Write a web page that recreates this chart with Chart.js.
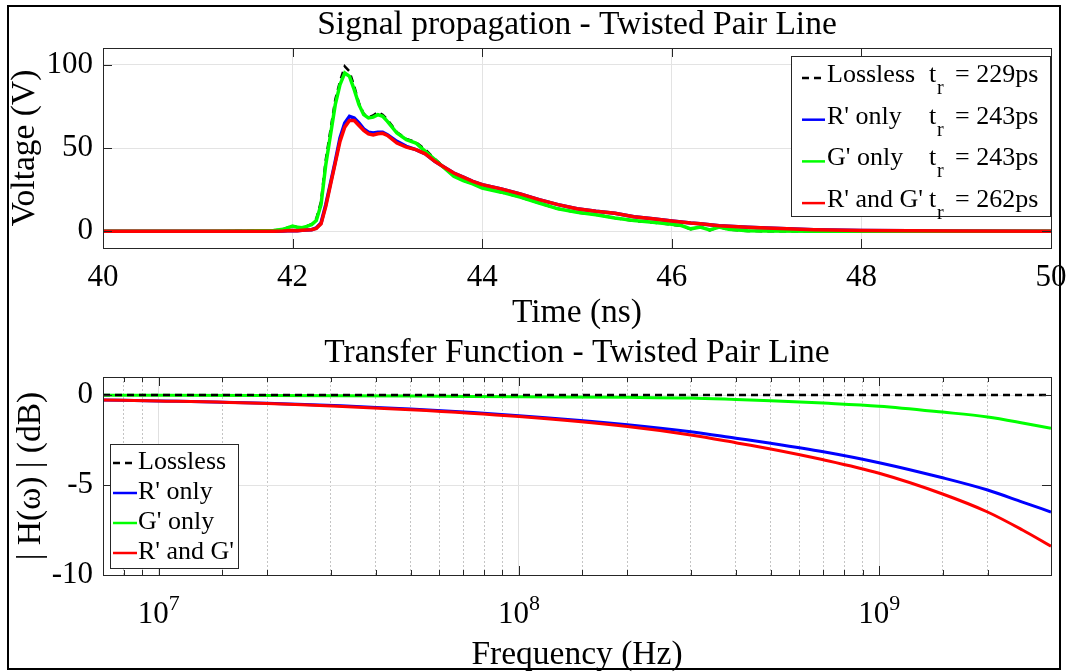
<!DOCTYPE html>
<html>
<head>
<meta charset="utf-8">
<script src="https://cdn.jsdelivr.net/npm/chart.js@4.4.0/dist/chart.umd.min.js"></script>
<style>
  body { margin: 0; background: #fff; }
  #page { position: relative; width: 1069px; height: 672px; overflow: hidden; }
  #frame { position: absolute; left: 7px; top: 5px; width: 1054px; height: 665px; border: 2px solid #000; box-sizing: border-box; }
  canvas { position: absolute; left: 0; }
  #top { top: 0; }
  #bottom { top: 330px; }
</style>
</head>
<body>
<div id="page">
  <div id="frame"></div>
  <canvas id="top" width="1154" height="330"></canvas>
  <canvas id="bottom" width="1154" height="342"></canvas>
</div>
<script>
"use strict"

const seriesNames = ['Lossless', "R' only", "G' only", "R' and G'"]
const riseTimes = [229, 243, 243, 262]

// time domain (ns, V)
const timeNs = [40, 41, 41.5, 41.8, 41.9, 42.0, 42.05, 42.1, 42.15, 42.2, 42.25, 42.3, 42.35, 42.4, 42.45, 42.5, 42.55, 42.6, 42.65, 42.7,
    42.75, 42.8, 42.85, 42.9, 42.95, 43.0, 43.1, 43.2, 43.3, 43.4, 43.5, 43.6, 43.7, 43.8, 43.9, 44.0, 44.2, 44.4, 44.6, 44.8,
    45.0, 45.2, 45.4, 45.6, 45.8, 46.0, 46.1, 46.2, 46.3, 46.4, 46.5, 46.6, 46.8, 47.0, 47.5, 48, 49, 50]
const vLossless = [0, 0, 0.2, 0.5, 1.3, 3.4, 2.5, 2.3, 3.1, 4.3, 7.5, 18, 43, 61, 79, 90, 99, 96, 87, 77,
    70.5, 68.5, 69.5, 71.5, 70, 67, 59.5, 55.5, 53.5, 49, 43.5, 38.5, 33.5, 30.5, 28.5, 26.2, 23.5, 20.5, 17, 13.5,
    11.3, 10, 8, 6.3, 5.3, 4, 3.3, 1.3, 2.7, 0.6, 2.7, 1, 0.2, 0.1, 0.05, 0, 0, 0]
const vROnly = [0, 0, 0, 0.1, 0.2, 0.5, 0.4, 0.6, 0.8, 1.0, 2.0, 5, 16, 29, 42, 56, 65, 69, 68, 65,
    61.5, 59.5, 59, 59.5, 59.5, 58, 54, 51, 49, 46.5, 42, 38.5, 35, 32.5, 30, 28, 25.5, 22.5, 19, 16,
    13.5, 12, 10.8, 8.8, 7.6, 6.2, 5.6, 5.0, 4.6, 4.0, 3.4, 3.0, 2.4, 2.0, 1.0, 0.5, 0.2, 0.1]
const vGOnly = [0, 0, 0.2, 0.5, 1.2, 3.2, 2.4, 2.2, 3.0, 4.0, 6.5, 16, 40, 58, 76, 88, 95, 93, 85, 76,
    70, 68, 68.5, 70, 69, 66, 59, 55, 53, 48, 43, 38, 33, 30.5, 28.5, 26, 23.5, 20.5, 17, 13.5,
    11.5, 10, 8, 6.5, 5.5, 4.2, 3.5, 1.5, 2.6, 0.8, 2.6, 1.2, 0.3, 0.2, 0.1, 0, 0, 0]
const vRG = [0, 0, 0, 0.1, 0.2, 0.5, 0.4, 0.6, 0.8, 1.0, 1.8, 4.5, 15, 28, 41, 54, 62.5, 66.5, 66.5, 63.5,
    60.5, 58.5, 57.8, 58.5, 58.8, 57.5, 53, 50.5, 49, 46.5, 42, 38.5, 35, 32.5, 30, 28, 25.5, 22.5, 19, 16,
    13.5, 12, 10.8, 8.8, 7.6, 6.2, 5.6, 5.0, 4.6, 4.0, 3.4, 3.0, 2.4, 2.0, 1.0, 0.5, 0.2, 0.1]

// transfer function (Hz, dB)
const freqHz = [7e6, 1e7, 2e7, 5e7, 1e8, 2e8, 3e8, 4e8, 5e8, 7e8, 1e9, 1.5e9, 2e9, 2.5e9, 3e9]
const hLossless = [0, 0, 0, 0, 0, 0, 0, 0, 0, 0, 0, 0, 0, 0, 0]
const hROnly = [-0.28, -0.33, -0.46, -0.78, -1.15, -1.65, -2.04, -2.4, -2.68, -3.15, -3.76, -4.6, -5.28, -5.95, -6.5]
const hGOnly = [-0.02, -0.02, -0.03, -0.06, -0.1, -0.13, -0.17, -0.25, -0.32, -0.45, -0.62, -0.95, -1.22, -1.55, -1.85]
const hRG = [-0.28, -0.33, -0.47, -0.82, -1.2, -1.75, -2.22, -2.65, -3.0, -3.6, -4.35, -5.5, -6.5, -7.5, -8.4]

const timeTicks = [40, 42, 44, 46, 48, 50]
const voltTicks = [0, 50, 100]
const dbTicks = [-10, -5, 0]

const colors = ['#000000', '#0000ff', '#00ff00', '#ff0000']
const serif = '"Liberation Serif", "Times New Roman", serif'
const axisColor = '#262626'

const toPoints = (xs, ys) => xs.map((x, i) => ({ x: x, y: ys[i] }))
const isDecade = (v) => Math.abs(Math.log10(v) - Math.round(Math.log10(v))) < 1e-6

// MATLAB-like box with inward ticks
const boxPlugin = {
    id: 'box',
    afterDatasetsDraw(chart) {
        const { ctx, chartArea: a, scales } = chart
        ctx.save()
        ctx.strokeStyle = axisColor
        ctx.lineWidth = 1
        ctx.strokeRect(Math.round(a.left) + 0.5, Math.round(a.top) + 0.5, Math.round(a.right - a.left), Math.round(a.bottom - a.top))
        ctx.beginPath()
        scales.x.ticks.forEach(t => {
            const px = Math.round(scales.x.getPixelForValue(t.value)) + 0.5
            const len = scales.x.type === 'logarithmic' && !isDecade(t.value) ? 5 : 9
            ctx.moveTo(px, a.bottom); ctx.lineTo(px, a.bottom - len)
            ctx.moveTo(px, a.top); ctx.lineTo(px, a.top + len)
        })
        scales.y.ticks.forEach(t => {
            const py = Math.round(scales.y.getPixelForValue(t.value)) + 0.5
            ctx.moveTo(a.left, py); ctx.lineTo(a.left + 9, py)
            ctx.moveTo(a.right, py); ctx.lineTo(a.right - 9, py)
        })
        ctx.stroke()
        ctx.restore()
    }
}

// decade labels 10^n for the log axis
const decadeLabels = {
    id: 'decadeLabels',
    afterDraw(chart) {
        const { ctx, chartArea: a, scales } = chart
        ctx.save()
        ctx.fillStyle = '#000'
        ctx.textBaseline = 'alphabetic'
        scales.x.ticks.filter(t => isDecade(t.value)).forEach(t => {
            const px = scales.x.getPixelForValue(t.value)
            const exp = String(Math.round(Math.log10(t.value)))
            ctx.font = `31px ${serif}`
            const w1 = ctx.measureText('10').width
            ctx.font = `22px ${serif}`
            const w2 = ctx.measureText(exp).width
            const x0 = px - (w1 + w2) / 2
            const base = a.bottom + 48
            ctx.font = `31px ${serif}`
            ctx.fillText('10', x0, base)
            ctx.font = `22px ${serif}`
            ctx.fillText(exp, x0 + w1, base - 13)
        })
        ctx.restore()
    }
}

const drawSample = (ctx, i, x0, x1, y) => {
    ctx.beginPath()
    ctx.strokeStyle = colors[i]
    ctx.lineWidth = 2.5
    ctx.setLineDash(i === 0 ? [7, 5] : [])
    ctx.moveTo(x0, y); ctx.lineTo(x1, y)
    ctx.stroke()
    ctx.setLineDash([])
}

const topLegend = {
    id: 'topLegend',
    afterDraw(chart) {
        const ctx = chart.ctx
        ctx.save()
        ctx.fillStyle = '#fff'
        ctx.fillRect(791, 56, 259, 160)
        ctx.strokeStyle = axisColor
        ctx.lineWidth = 1
        ctx.strokeRect(791.5, 56.5, 259, 160)
        seriesNames.forEach((name, i) => {
            const base = 82 + i * 41.7
            drawSample(ctx, i, 802, 825, base - 4)
            ctx.fillStyle = '#000'
            ctx.textBaseline = 'alphabetic'
            ctx.font = `26px ${serif}`
            ctx.fillText(name, 827, base)
            ctx.fillText('t', 929, base)
            ctx.fillText(`= ${riseTimes[i]}ps`, 955, base)
            ctx.font = `20px ${serif}`
            ctx.fillText('r', 937, base + 12)
        })
        ctx.restore()
    }
}

const bottomLegend = {
    id: 'bottomLegend',
    afterDraw(chart) {
        const ctx = chart.ctx
        ctx.save()
        ctx.fillStyle = '#fff'
        ctx.fillRect(110, 114, 128, 124)
        ctx.strokeStyle = axisColor
        ctx.lineWidth = 1
        ctx.strokeRect(110.5, 114.5, 128, 124)
        seriesNames.forEach((name, i) => {
            const base = 139 + i * 30
            drawSample(ctx, i, 113, 137, base - 6)
            ctx.fillStyle = '#000'
            ctx.textBaseline = 'alphabetic'
            ctx.font = `26px ${serif}`
            ctx.fillText(name, 138, base)
        })
        ctx.restore()
    }
}

const makeDatasets = (xs, series, widths, order) => series.map((ys, i) => ({
    label: seriesNames[i],
    data: toPoints(xs, ys),
    borderColor: colors[i],
    borderWidth: widths[i],
    borderDash: i === 0 ? [7, 5] : [],
    pointRadius: 0,
    fill: false,
    order: order[i]
}))

const tickFont = { family: serif, size: 31 }
const titleFont = { family: serif, size: 33.5, weight: 'normal', lineHeight: 1 }

// empty right-hand axis: keeps the plot at 103..1051 while the title centres over it
const spacerAxis = {
    position: 'right',
    display: true,
    grid: { display: false, drawTicks: false },
    border: { display: false },
    ticks: { display: false },
    afterFit: s => { s.width = 103 }
}

new Chart(document.getElementById('top').getContext('2d'), {
    type: 'line',
    data: {
        datasets: makeDatasets(timeNs, [vLossless, vROnly, vGOnly, vRG], [2.5, 3.5, 3.5, 3.5], [3, 2, 1, 0])
    },
    options: {
        responsive: false,
        animation: false,
        layout: { padding: 0 },
        plugins: {
            legend: { display: false },
            tooltip: { enabled: false },
            title: {
                display: true,
                text: 'Signal propagation - Twisted Pair Line',
                color: '#000',
                font: titleFont,
                padding: { top: 8, bottom: 6.5 }
            }
        },
        scales: {
            x: {
                type: 'linear',
                min: 40,
                max: 50,
                afterBuildTicks: s => { s.ticks = timeTicks.map(v => ({ value: v })) },
                afterFit: s => { s.height = 82 },
                grid: { color: '#e3e3e3', drawTicks: false },
                border: { display: false },
                ticks: { font: tickFont, color: '#000', padding: 11, maxRotation: 0 },
                title: { display: true, text: 'Time (ns)', color: '#000', font: titleFont, padding: { top: 0, bottom: 0 } }
            },
            y: {
                min: -10,
                max: 110,
                afterBuildTicks: s => { s.ticks = voltTicks.map(v => ({ value: v })) },
                afterFit: s => { s.width = 103 },
                grid: { color: '#e3e3e3', drawTicks: false },
                border: { display: false },
                ticks: { font: tickFont, color: '#000', padding: 10 },
                title: { display: true, text: 'Voltage (V)', color: '#000', font: titleFont, padding: { top: 8.5, bottom: 0 } }
            },
            spacer: spacerAxis
        }
    },
    plugins: [boxPlugin, topLegend]
})

new Chart(document.getElementById('bottom').getContext('2d'), {
    type: 'line',
    data: {
        datasets: makeDatasets(freqHz, [hLossless, hROnly, hGOnly, hRG], [2.5, 3, 3, 3], [0, 2, 3, 1])
            .map(d => Object.assign(d, { cubicInterpolationMode: 'monotone' }))
    },
    options: {
        responsive: false,
        animation: false,
        layout: { padding: 0 },
        plugins: {
            legend: { display: false },
            tooltip: { enabled: false },
            title: {
                display: true,
                text: 'Transfer Function - Twisted Pair Line',
                color: '#000',
                font: titleFont,
                padding: { top: 6, bottom: 7.5 }
            }
        },
        scales: {
            x: {
                type: 'logarithmic',
                min: 7e6,
                max: 3e9,
                afterFit: s => { s.height = 97 },
                grid: {
                    color: c => isDecade(c.tick.value) ? '#e0e0e0' : '#c4c4c4',
                    drawTicks: false
                },
                border: { display: false, dash: c => isDecade(c.tick.value) ? [] : [2, 2] },
                ticks: { autoSkip: false, maxRotation: 0, font: tickFont, callback: () => '' },
                title: { display: true, text: 'Frequency (Hz)', color: '#000', font: titleFont, padding: { top: 0, bottom: 0 } }
            },
            y: {
                min: -10,
                max: 1,
                afterBuildTicks: s => { s.ticks = dbTicks.map(v => ({ value: v })) },
                afterFit: s => { s.width = 103 },
                grid: { color: '#e3e3e3', drawTicks: false },
                border: { display: false },
                ticks: { font: tickFont, color: '#000', padding: 10 },
                title: { display: true, text: '| H(ω) | (dB)', color: '#000', font: titleFont, padding: { top: 14.5, bottom: 0 } }
            },
            spacer: spacerAxis
        }
    },
    plugins: [boxPlugin, bottomLegend, decadeLabels]
})
</script>
</body>
</html>
